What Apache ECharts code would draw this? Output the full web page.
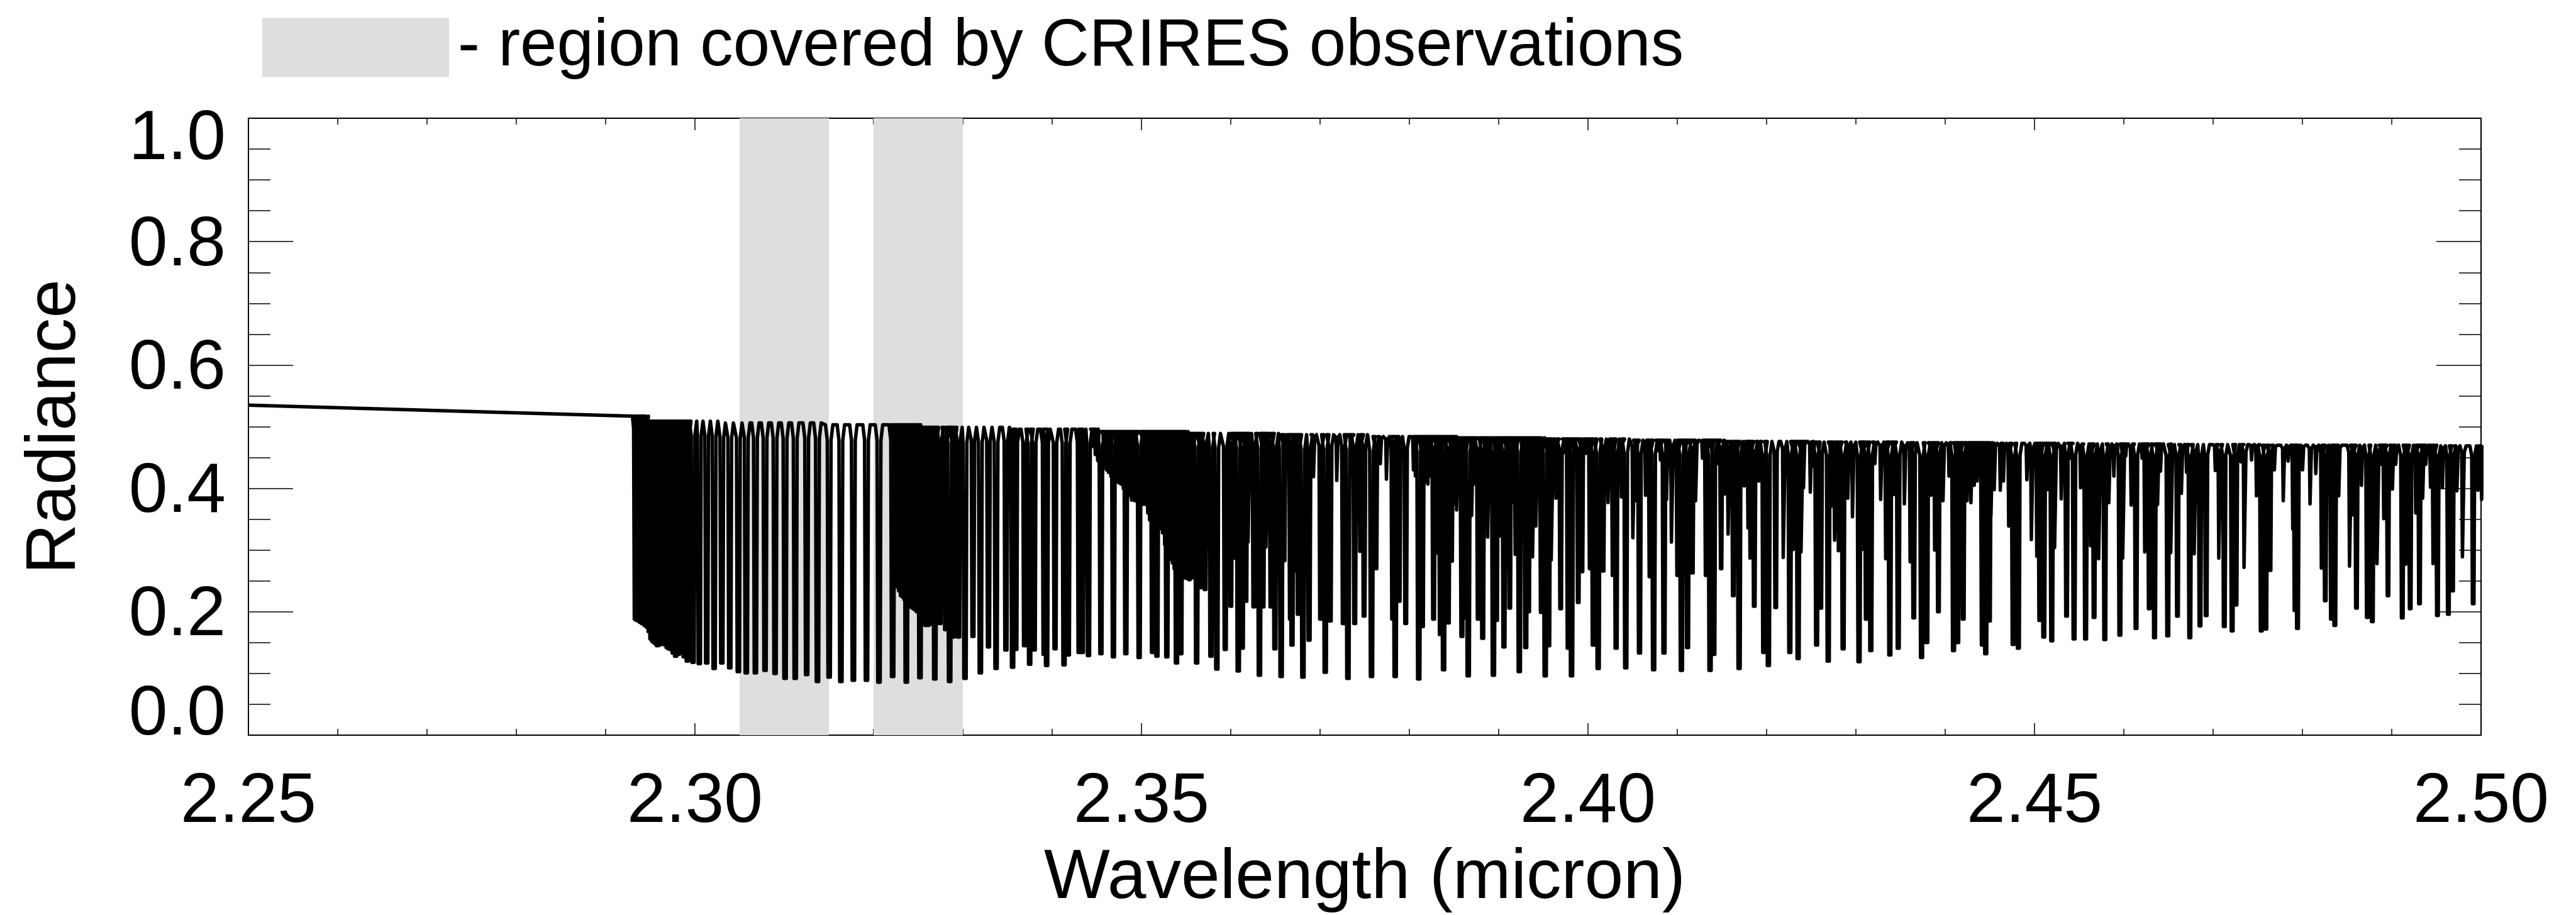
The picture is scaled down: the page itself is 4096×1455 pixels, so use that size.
<!DOCTYPE html>
<html>
<head>
<meta charset="utf-8">
<script src="https://cdn.jsdelivr.net/npm/echarts@6/dist/echarts.min.js"></script>
<style>
html,body{margin:0;padding:0;background:#ffffff;}
#chart{width:4096px;height:1455px;}
</style>
</head>
<body>
<div id="chart"></div>
<script>
// ---------------- data ----------------
const xTickValues = [2.25, 2.30, 2.35, 2.40, 2.45, 2.50];
const xTickLabels = ['2.25', '2.30', '2.35', '2.40', '2.45', '2.50'];
const yTickValues = [0.0, 0.2, 0.4, 0.6, 0.8, 1.0];
const yTickLabels = ['0.0', '0.2', '0.4', '0.6', '0.8', '1.0'];

// CRIRES coverage bands (micron)
const bandStart = [2.305, 2.320];
const bandEnd   = [2.315, 2.330];
const legendText = '- region covered by CRIRES observations';

// smooth part of the spectrum before the band head
const flatWl  = [2.2500, 2.2930];
const flatVal = [0.535, 0.517];

// continuum (top of the absorption lines) read at anchors
const contWl  = [2.2930, 2.296, 2.31, 2.32, 2.33, 2.34, 2.35, 2.36, 2.37, 2.38, 2.39, 2.40, 2.41, 2.42, 2.43, 2.44, 2.45, 2.46, 2.47, 2.48, 2.49, 2.50];
const contTop = [0.517, 0.509, 0.506, 0.503, 0.499, 0.496, 0.492, 0.489, 0.487, 0.484, 0.482, 0.480, 0.478, 0.476, 0.475, 0.474, 0.473, 0.472, 0.471, 0.470, 0.470, 0.469];

// absorption lines: [centre wavelength, minimum radiance]
const seg1 = [
 [2.29332,0.188],[2.29350,0.186],[2.29370,0.185],[2.29390,0.183],[2.29411,0.181],[2.29440,0.178],[2.29465,0.175],[2.29487,0.168],
 [2.29507,0.156],[2.29527,0.152],[2.29545,0.150],[2.29562,0.148],[2.29580,0.145],[2.29598,0.146],[2.29615,0.147],[2.29632,0.148],
 [2.29650,0.149],[2.29670,0.146],[2.29690,0.142],[2.29710,0.140],[2.29730,0.139],[2.29757,0.133],[2.29784,0.128],[2.29815,0.131],
 [2.29845,0.135],[2.29880,0.127],[2.29915,0.120],[2.29979,0.118],[2.30049,0.116],[2.30132,0.117],[2.30215,0.108],[2.30301,0.117],
 [2.30390,0.109],[2.30486,0.103],[2.30575,0.101],[2.30677,0.101],[2.30785,0.105],[2.30897,0.100],[2.31009,0.092],[2.31123,0.092],
 [2.31251,0.098],[2.31372,0.087],[2.31503,0.094],[2.31634,0.087],[2.31774,0.089],[2.31921,0.089],[2.32061,0.086],[2.32214,0.095],
 [2.32232,0.262],[2.32250,0.245],[2.32270,0.240],[2.32290,0.234],[2.32310,0.226],[2.32330,0.224],[2.32350,0.220],[2.32367,0.086],
 [2.32390,0.213],[2.32410,0.210],[2.32430,0.207],[2.32450,0.205],[2.32470,0.203],[2.32490,0.200],[2.32520,0.093],[2.32545,0.190],
 [2.32565,0.180],[2.32585,0.178],[2.32610,0.178],[2.32635,0.180],[2.32660,0.185],[2.32686,0.091],[2.32745,0.181],[2.32807,0.171],
 [2.32852,0.087],[2.32894,0.159],[2.32953,0.159]
];
const seg2 = [
 [2.33024,0.092],[2.33113,0.160],[2.33196,0.101],[2.33287,0.143],[2.33372,0.108],[2.33482,0.138],[2.33557,0.110],[2.33593,0.139],
 [2.33691,0.145],[2.33748,0.115],[2.33799,0.138],[2.33910,0.131],[2.33938,0.113],[2.34032,0.140],[2.34133,0.114],[2.34181,0.130],
 [2.34302,0.134],[2.34338,0.134],[2.34407,0.129],[2.34460,0.468],[2.34485,0.455],[2.34512,0.445],[2.34546,0.132],[2.34581,0.434],
 [2.34610,0.430],[2.34633,0.426],[2.34660,0.420],[2.34686,0.127],[2.34720,0.411],[2.34750,0.409],[2.34773,0.407],[2.34800,0.400],
 [2.34825,0.132],[2.34842,0.396],[2.34870,0.388],[2.34894,0.381],[2.34929,0.380],[2.34974,0.126],[2.35016,0.374],[2.35051,0.374],
 [2.35075,0.360],[2.35096,0.349],[2.35124,0.134],[2.35145,0.343],[2.35173,0.128],[2.35200,0.341],[2.35222,0.335],[2.35242,0.328],
 [2.35266,0.309],[2.35284,0.127],[2.35312,0.290],[2.35335,0.285],[2.35354,0.279],[2.35373,0.270],[2.35392,0.117],[2.35416,0.262],
 [2.35441,0.132],[2.35465,0.258],[2.35486,0.255],[2.35510,0.254],[2.35538,0.252],[2.35573,0.255],[2.35618,0.117],[2.35660,0.239],
 [2.35712,0.236],[2.35778,0.128],[2.35844,0.107],[2.35938,0.139],[2.36001,0.209],[2.36040,0.287],[2.36084,0.104],[2.36129,0.141],
 [2.36170,0.217],[2.36200,0.313],[2.36258,0.208],[2.36321,0.097],[2.36362,0.208],[2.36400,0.305],[2.36449,0.208],[2.36494,0.140],
 [2.36564,0.095],[2.36599,0.283],[2.36668,0.188],[2.36686,0.146],[2.36720,0.266],[2.36755,0.196],[2.36808,0.094],[2.36877,0.154],
 [2.36929,0.419],[2.37006,0.188],[2.37058,0.102],[2.37114,0.185],[2.37190,0.413],[2.37260,0.181],[2.37312,0.092],[2.37347,0.423],
 [2.37388,0.181],[2.37451,0.298],[2.37493,0.193],[2.37576,0.095],[2.37628,0.270],[2.37677,0.440],[2.37746,0.415],[2.37813,0.188],
 [2.37841,0.095],[2.37886,0.217],[2.37959,0.181],[2.38048,0.430],[2.38070,0.420],[2.38105,0.091]
];
const seg3 = [
 [2.38146,0.176],[2.38176,0.411],[2.38210,0.407],[2.38240,0.420],[2.38271,0.188],[2.38310,0.295],[2.38347,0.163],[2.38383,0.106],
 [2.38436,0.182],[2.38474,0.282],[2.38497,0.374],[2.38533,0.365],[2.38560,0.400],[2.38588,0.160],[2.38621,0.190],[2.38659,0.096],
 [2.38702,0.356],[2.38726,0.407],[2.38771,0.188],[2.38821,0.157],[2.38850,0.400],[2.38882,0.321],[2.38941,0.097],[2.38976,0.186],
 [2.38996,0.358],[2.39020,0.323],[2.39059,0.143],[2.39093,0.302],[2.39124,0.206],[2.39166,0.378],[2.39191,0.293],[2.39231,0.103],
 [2.39268,0.370],[2.39303,0.142],[2.39335,0.200],[2.39349,0.453],[2.39386,0.289],[2.39422,0.339],[2.39445,0.445],[2.39477,0.199],
 [2.39521,0.096],[2.39560,0.145],[2.39595,0.284],[2.39645,0.384],[2.39694,0.205],[2.39743,0.458],[2.39779,0.141],[2.39816,0.096],
 [2.39854,0.441],[2.39891,0.215],[2.39934,0.265],[2.39980,0.457],[2.40023,0.270],[2.40059,0.146],[2.40114,0.108],[2.40171,0.266],
 [2.40228,0.377],[2.40280,0.259],[2.40315,0.141],[2.40378,0.386],[2.40423,0.109],[2.40508,0.320],[2.40543,0.380],[2.40577,0.133],
 [2.40648,0.389],[2.40693,0.257],[2.40735,0.106],[2.40790,0.461],[2.40813,0.446],[2.40851,0.133],[2.40883,0.382],[2.40940,0.313],
 [2.41003,0.259],[2.41046,0.105],[2.41085,0.350]
];
const seg4 = [
 [2.41115,0.142],[2.41170,0.263],[2.41209,0.380],[2.41284,0.449],[2.41322,0.259],[2.41367,0.105],[2.41409,0.131],[2.41458,0.440],
 [2.41491,0.270],[2.41537,0.391],[2.41574,0.326],[2.41627,0.226],[2.41661,0.275],[2.41692,0.108],[2.41752,0.404],[2.41797,0.336],
 [2.41821,0.287],[2.41862,0.209],[2.41915,0.412],[2.41968,0.134],[2.42020,0.113],[2.42102,0.207],[2.42193,0.288],[2.42260,0.134],
 [2.42305,0.301],[2.42353,0.124],[2.42392,0.297],[2.42416,0.401],[2.42493,0.394],[2.42526,0.436],[2.42560,0.146],[2.42607,0.206],
 [2.42690,0.120],[2.42723,0.370],[2.42767,0.316],[2.42810,0.299],[2.42857,0.140],[2.42913,0.384],[2.42966,0.354],[2.43035,0.119],
 [2.43076,0.301],[2.43116,0.188],[2.43167,0.137],[2.43214,0.440],[2.43281,0.382],[2.43340,0.286],[2.43380,0.130],[2.43423,0.390],
 [2.43474,0.141],[2.43547,0.375],[2.43614,0.281],[2.43648,0.190],[2.43735,0.126],[2.43794,0.150],[2.43843,0.389],[2.43888,0.300],
 [2.43924,0.200],[2.43979,0.380],[2.44045,0.420],[2.44093,0.137]
];
const seg5 = [
 [2.44140,0.150],[2.44166,0.300],[2.44202,0.188],[2.44249,0.380],[2.44292,0.377],[2.44328,0.405],[2.44360,0.412],[2.44395,0.450],
 [2.44416,0.146],[2.44454,0.132],[2.44495,0.185],[2.44517,0.356],[2.44552,0.398],[2.44620,0.397],[2.44655,0.412],[2.44716,0.339],
 [2.44761,0.147],[2.44819,0.141],[2.44917,0.414],[2.44970,0.317],[2.45032,0.290],[2.45059,0.186],[2.45104,0.159],[2.45148,0.398],
 [2.45193,0.153],[2.45231,0.304],[2.45303,0.383],[2.45359,0.193],[2.45402,0.449],[2.45443,0.156],[2.45519,0.401],[2.45572,0.156],
 [2.45633,0.307],[2.45667,0.191],[2.45725,0.286],[2.45787,0.155],[2.45836,0.377],[2.45891,0.420],[2.45956,0.162],[2.45994,0.287],
 [2.46023,0.452],[2.46086,0.373],[2.46137,0.173],[2.46206,0.449],[2.46240,0.297],[2.46285,0.205],[2.46344,0.158],[2.46382,0.374],
 [2.46413,0.428],[2.46492,0.161],[2.46532,0.296],[2.46601,0.193],[2.46648,0.392],[2.46705,0.426],[2.46739,0.158],[2.46794,0.294],
 [2.46853,0.177],[2.46922,0.194],[2.47026,0.429],[2.47070,0.287],[2.47125,0.176]
];
const seg6 = [
 [2.47213,0.169],[2.47257,0.211],[2.47314,0.443],[2.47353,0.272],[2.47432,0.446],[2.47489,0.388],[2.47539,0.169],[2.47590,0.172],
 [2.47639,0.267],[2.47688,0.430],[2.47789,0.380],[2.47842,0.444],[2.47897,0.334],[2.47917,0.202],[2.47945,0.173],[2.48004,0.430],
 [2.48089,0.375],[2.48152,0.424],[2.48219,0.271],[2.48256,0.218],[2.48325,0.188],[2.48363,0.178],[2.48410,0.388],[2.48534,0.274],
 [2.48570,0.357],[2.48605,0.206],[2.48664,0.405],[2.48727,0.191],[2.48783,0.184],[2.48842,0.278],[2.48889,0.439],[2.48915,0.351],
 [2.48958,0.226],[2.49011,0.399],[2.49047,0.439],[2.49118,0.190],[2.49163,0.277],[2.49207,0.205],[2.49273,0.360],[2.49311,0.213],
 [2.49350,0.384],[2.49384,0.439],[2.49437,0.402],[2.49469,0.278],[2.49512,0.194],[2.49571,0.401],[2.49634,0.196],[2.49682,0.234],
 [2.49733,0.396],[2.49798,0.289],[2.49912,0.213],[2.49969,0.397],[2.50010,0.382]
];

// ---------------- build the polyline from the read values ----------------
function topAt(w) {
  let best = 0;
  for (let i = 1; i < contWl.length; i++) {
    if (Math.abs(contWl[i] - w) < Math.abs(contWl[best] - w)) best = i;
  }
  return contTop[best];
}
const allLines = [].concat(seg1, seg2, seg3, seg4, seg5, seg6).sort((p, q) => p[0] - q[0]);
const spectrum = [];
for (let i = 0; i < flatWl.length; i++) spectrum.push([flatWl[i], flatVal[i]]);
// drawing shape of one line (style only): flat-bottomed narrow dip with soft shoulders
const WING_TOP = 0.00028;   // half-width added at the continuum
const WING_MID = 0.00008;   // half-width added just below the continuum
const WING_DROP = 0.06;     // fraction of depth where the wing meets the core
allLines.forEach(function (ln) {
  const c = ln[0], m = ln[1], t = topAt(c);
  const d = t - m;
  const half = 0.00001 + 0.0003 * d;
  const yk = t - WING_DROP * d;
  spectrum.push([c - half - WING_TOP, t]);
  spectrum.push([c - half - WING_MID, yk]);
  spectrum.push([c - half, m]);
  spectrum.push([c + half, m]);
  spectrum.push([c + half + WING_MID, yk]);
  spectrum.push([c + half + WING_TOP, t]);
});

// ---------------- chart ----------------
const FONT = "'Liberation Sans', Helvetica, Arial, sans-serif";
const FS = 111;
const AXIS_W = 2;
const TICK_W = 1.5;

function xLabel(v) {
  const i = xTickValues.findIndex(t => Math.abs(t - v) < 1e-6);
  return i >= 0 ? xTickLabels[i] : v.toFixed(2);
}
function yLabel(v) {
  const i = yTickValues.findIndex(t => Math.abs(t - v) < 1e-6);
  const txt = i >= 0 ? yTickLabels[i] : v.toFixed(1);
  if (i === 0) return '{mn|' + txt + '}';
  if (i === yTickValues.length - 1) return '{mx|' + txt + '}';
  return '{n|' + txt + '}';
}
const labelBase = { fontSize: FS, fontFamily: FONT, color: '#000', lineHeight: FS };

function xAxisDef(pos, showLabel) {
  return {
    type: 'value', position: pos, min: 2.25, max: 2.50, interval: 0.05,
    axisLine: { show: true, onZero: false, lineStyle: { color: '#000', width: AXIS_W } },
    axisTick: { show: true, inside: true, length: 19, lineStyle: { color: '#000', width: TICK_W } },
    minorTick: { show: true, splitNumber: 5, length: 10, lineStyle: { color: '#000', width: TICK_W } },
    splitLine: { show: false }, minorSplitLine: { show: false },
    axisLabel: {
      show: showLabel, margin: 52, fontSize: FS, fontFamily: FONT, color: '#000', lineHeight: FS,
      showMinLabel: true, showMaxLabel: true, hideOverlap: false, formatter: xLabel
    },
    name: showLabel ? 'Wavelength (micron)' : '',
    nameLocation: 'middle', nameGap: 173,
    nameTextStyle: { fontSize: FS, fontFamily: FONT, color: '#000', lineHeight: FS }
  };
}
function yAxisDef(pos, showLabel) {
  return {
    type: 'value', position: pos, min: 0, max: 1, interval: 0.2,
    axisLine: { show: true, onZero: false, lineStyle: { color: '#000', width: AXIS_W } },
    axisTick: { show: true, inside: true, length: 71, lineStyle: { color: '#000', width: TICK_W } },
    minorTick: { show: true, splitNumber: 4, length: 35, lineStyle: { color: '#000', width: TICK_W } },
    splitLine: { show: false }, minorSplitLine: { show: false },
    axisLabel: {
      show: showLabel, margin: 36, fontSize: FS, fontFamily: FONT, color: '#000',
      showMinLabel: true, showMaxLabel: true, hideOverlap: false, formatter: yLabel,
      rich: {
        n:  Object.assign({}, labelBase, { padding: [14, 0, 0, 0] }),
        mn: Object.assign({}, labelBase, { padding: [0, 0, 64, 0] }),
        mx: Object.assign({}, labelBase, { padding: [68, 0, 0, 0] })
      }
    },
    name: showLabel ? 'Radiance' : '',
    nameLocation: 'middle', nameGap: 251,
    nameTextStyle: { fontSize: FS, fontFamily: FONT, color: '#000', lineHeight: FS }
  };
}

const chart = echarts.init(document.getElementById('chart'), null, { renderer: 'canvas', width: 4096, height: 1455 });
chart.setOption({
  backgroundColor: '#ffffff',
  animation: false,
  textStyle: { fontFamily: FONT },
  grid: { left: 395, top: 188, width: 3550, height: 981, containLabel: false, outerBoundsMode: 'none' },
  legend: {
    show: true, left: 417, top: 23, padding: 0,
    itemWidth: 297, itemHeight: 94, itemGap: 0,
    selectedMode: false, symbolKeepAspect: false,
    data: [{ name: legendText, icon: 'rect', itemStyle: { color: '#DEDEDE', borderWidth: 0 } }],
    textStyle: { fontSize: 105, fontFamily: FONT, color: '#000', padding: [0, 0, 0, 9] }
  },
  xAxis: [xAxisDef('bottom', true), xAxisDef('top', false)],
  yAxis: [yAxisDef('left', true), yAxisDef('right', false)],
  series: [
    {
      name: legendText, type: 'line', xAxisIndex: 0, yAxisIndex: 0, data: [],
      z: 1, silent: true, showSymbol: false,
      itemStyle: { color: '#DEDEDE' },
      markArea: {
        silent: true,
        itemStyle: { color: '#DEDEDE', borderWidth: 0 },
        data: bandStart.map((s, i) => [{ xAxis: s }, { xAxis: bandEnd[i] }])
      }
    },
    {
      name: 'spectrum', type: 'line', xAxisIndex: 0, yAxisIndex: 0,
      data: spectrum, z: 5, silent: true,
      showSymbol: false, symbol: 'none', clip: true,
      lineStyle: { color: '#000', width: 5.5, join: 'round' },
      emphasis: { disabled: true }
    }
  ]
});
</script>
</body>
</html>
